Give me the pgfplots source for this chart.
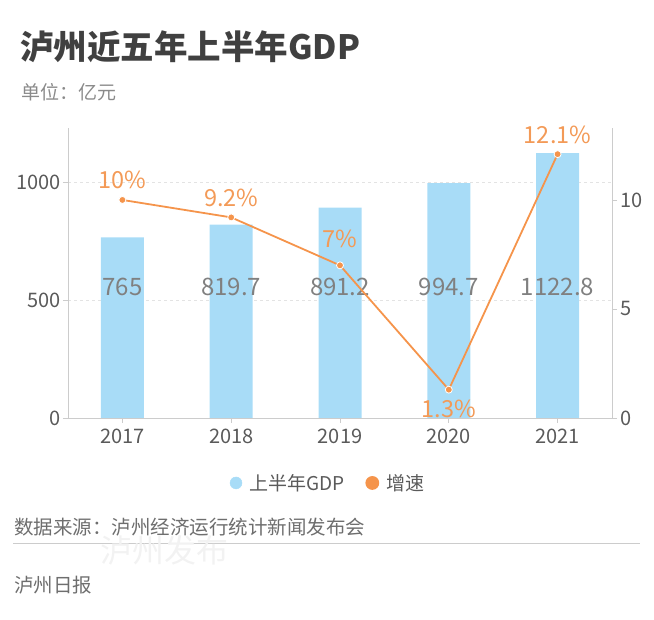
\documentclass[border=0pt]{standalone}
\usepackage{fontspec}
\setmainfont{Noto Sans CJK SC}
\usepackage{pgfplots}
\pgfplotsset{compat=1.18}
\definecolor{barblue}{HTML}{A8DCF7}
\definecolor{lineorange}{HTML}{F5944B}
\definecolor{labelorange}{HTML}{F39A57}
\definecolor{axisgray}{HTML}{CCCCCC}
\definecolor{gridgray}{HTML}{E3E3E3}
\definecolor{ticktext}{HTML}{5A5A5A}
\definecolor{valgray}{HTML}{808080}
\definecolor{titlecol}{HTML}{404040}
\definecolor{subcol}{HTML}{8A8A8A}
\definecolor{srccol}{HTML}{6E6E6E}
\begin{document}
\begin{tikzpicture}
\useasboundingbox (0,0) rectangle (654pt,620pt);
% titles
\node[anchor=west, inner sep=0pt, text=titlecol, font=\fontsize{33.5}{36}\selectfont\bfseries] at (20pt,573pt) {泸州近五年上半年GDP};
\node[anchor=west, inner sep=0pt, text=subcol, font=\fontsize{19}{21}\selectfont] at (21pt,528pt) {单位：亿元};
% bars axis
\begin{axis}[
  at={(68pt,202pt)}, anchor=south west, scale only axis,
  width=544pt, height=290pt,
  xmin=-0.5, xmax=4.5, ymin=0, ymax=1228.8,
  axis x line*=bottom, axis y line*=left,
  axis line style={-, draw=axisgray, line width=0.8pt},
  xtick={0,1,2,3,4}, xticklabels={2017,2018,2019,2020,2021},
  ytick={0,500,1000}, yticklabels={0,500,1000},
  tick align=outside, major tick length=5pt,
  tick style={draw=axisgray, line width=0.8pt},
  ymajorgrids, grid style={dashed, draw=gridgray, line width=0.7pt},
  /pgf/number format/assume math mode=true,
  tick label style={text=ticktext, font=\fontsize{20}{22}\selectfont},
  xticklabel style={yshift=-2pt},
  yticklabel style={xshift=1pt},
  clip=false,
]
\addplot[ybar, bar width=43pt, fill=barblue, draw=none] coordinates {
  (0,765) (1,819.7) (2,891.2) (3,994.7) (4,1122.8)
};
\addplot[draw=none, mark=none, nodes near coords={\pgfplotspointmeta},
  point meta=explicit symbolic,
  every node near coord/.append style={anchor=center, inner sep=0pt, text=valgray, font=\fontsize{24}{26}\selectfont}]
  coordinates {
  (0,555)[765] (1,555)[819.7] (2,555)[891.2] (3,555)[994.7] (4,555)[1122.8]
};
\end{axis}
% growth axis
\begin{axis}[
  at={(68pt,202pt)}, anchor=south west, scale only axis,
  width=544pt, height=290pt,
  xmin=-0.5, xmax=4.5, ymin=0, ymax=13.3,
  axis x line=none, axis y line*=right,
  axis line style={-, draw=axisgray, line width=0.8pt},
  ytick={0,5,10}, yticklabels={0,5,10},
  tick align=outside, major tick length=5pt,
  tick style={draw=axisgray, line width=0.8pt},
  /pgf/number format/assume math mode=true,
  tick label style={text=ticktext, font=\fontsize{20}{22}\selectfont},
  clip=false,
  legend style={draw=none, fill=none, at={(0.478,-0.224)}, anchor=center,
    legend columns=2, font=\fontsize{19}{22}\selectfont, text=ticktext,
    /tikz/every odd column/.append style={column sep=5pt},
    /tikz/every even column/.append style={column sep=19pt}},
  legend cell align=left,
]
\addlegendimage{legend image code/.code={\fill[barblue] (6pt,0pt) circle (6pt);}}
\addlegendentry{上半年GDP}
\addplot[color=lineorange, line width=1.8pt, mark=*, mark size=3.5pt,
  mark options={fill=lineorange, draw=white, line width=0.8pt},
  nodes near coords={\pgfplotspointmeta\%},
  point meta=explicit symbolic,
  visualization depends on={\thisrow{dy} \as \dy},
  every node near coord/.append style={anchor=center, inner sep=0pt, yshift=\dy pt, text=labelorange, font=\fontsize{23.5}{25}\selectfont},
  legend image code/.code={\fill[lineorange] (6pt,0pt) circle (6pt);}]
  table[x=x, y=y, meta=lab] {
  x y lab dy
  0 10 10 20
  1 9.2 9.2 20
  2 7 7 26
  3 1.3 1.3 -19
  4 12.1 12.1 19
};
\addlegendentry{增速}
\end{axis}
% footer
\node[anchor=west, inner sep=0pt, text=srccol, font=\fontsize{19.5}{21}\selectfont] at (14pt,93pt) {数据来源：泸州经济运行统计新闻发布会};
\draw[draw=axisgray, line width=0.9pt] (13pt,77pt) -- (640pt,77pt);
\node[anchor=west, inner sep=0pt, text=black!5, font=\fontsize{32}{34}\selectfont] at (100pt,70pt) {泸州发布};
\node[anchor=west, inner sep=0pt, text=srccol, font=\fontsize{19.5}{21}\selectfont] at (14pt,35pt) {泸州日报};
\end{tikzpicture}
\end{document}
